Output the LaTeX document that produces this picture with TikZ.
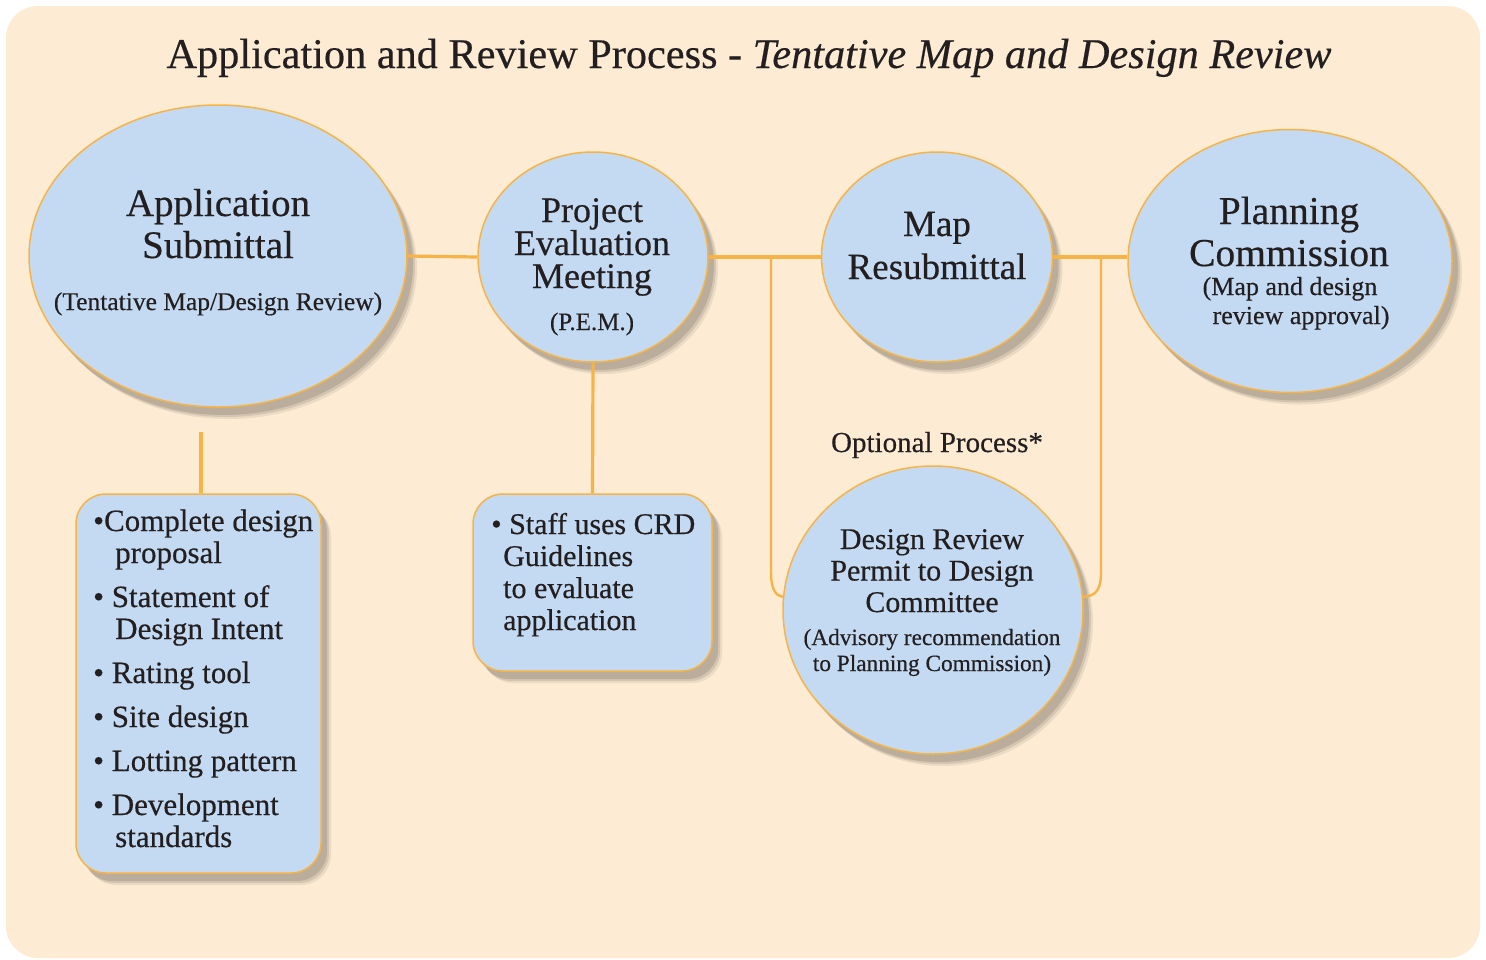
\documentclass[tikz,border=0pt]{standalone}
\usepackage{fontspec}
\setmainfont{Liberation Serif}[FakeBold=0.4]
\usetikzlibrary{shadows,shapes.geometric}
\definecolor{bgc}{HTML}{FDEBD3}
\definecolor{blu}{HTML}{C3DAF2}
\definecolor{org}{HTML}{F7B446}
\definecolor{txt}{HTML}{231F20}
\definecolor{shd}{HTML}{6E675E}
\newcommand\fsz[2]{\fontsize{#1}{#2}\selectfont}
\begin{document}
\begin{tikzpicture}[x=1pt,y=-1pt,
  softshadow/.style={
    drop shadow={shadow xshift=10pt, shadow yshift=-12pt, fill=shd, opacity=0.12},
    drop shadow={shadow xshift=8pt, shadow yshift=-10pt, fill=shd, opacity=0.18},
    drop shadow={shadow xshift=6pt, shadow yshift=-8pt, fill=shd, opacity=0.25}},
  bubble/.style={ellipse, draw=org, line width=1.5pt, fill=blu, inner sep=0pt, softshadow},
  card/.style={rectangle, rounded corners=30pt, draw=org, line width=1.5pt, fill=blu, inner sep=0pt, softshadow},
  conn/.style={draw=org, line width=3.2pt},
  optline/.style={draw=org, line width=2.4pt},
  txtn/.style={text=txt, inner sep=0pt, anchor=base, align=center}]
\useasboundingbox (0,0) rectangle (1486,959);
\fill[white] (0,0) rectangle (1486,959);
\fill[bgc, rounded corners=32pt] (6,6) rectangle (1480,958);

% bubbles
\node[bubble, minimum width=378pt, minimum height=302pt] (app) at (218,256) {};
\node[bubble, minimum width=230pt, minimum height=210pt] (pem) at (593,257) {};
\node[bubble, minimum width=231pt, minimum height=210pt] (map) at (937,257) {};
\node[bubble, minimum width=324pt, minimum height=263pt] (pc) at (1290,261) {};
\node[bubble, minimum width=300pt, minimum height=288pt] (dr) at (933,610) {};
% boxes
\node[card, minimum width=245pt, minimum height=379pt] (box1) at (198.5,683.5) {};
\node[card, minimum width=239pt, minimum height=177pt] (box2) at (592.5,582.5) {};

% connectors
\draw[conn] (app.east) -- (pem.west);
\draw[conn] (pem.east) -- (map.west);
\draw[conn] (map.east) -- (map.east -| pc.west);
\coordinate (a1) at (201,432);
\draw[conn] (a1) -- (a1 |- box1.north);
\draw[conn] (pem.south) -- (box2.north);
\coordinate (j1) at (771,257);
\coordinate (j2) at (1101,257);
\draw[optline] (j1) -- (771,572) .. controls (771,590) and (776,596) .. (dr.175);
\draw[optline] (j2) -- (1101,572) .. controls (1101,590) and (1096,596) .. (dr.5);

% texts (multi-line nodes: base = baseline of last line)
\node[txtn, font=\fsz{42.3}{44}] (title) at (749,68) {Application and Review Process - \textit{Tentative Map and Design Review}};
\node[txtn, font=\fsz{39}{42}] (appt) at (218,258) {Application\\Submittal};
\node[txtn, font=\fsz{25.5}{30}] (apps) at (218,310) {(Tentative Map/Design Review)};
\node[txtn, font=\fsz{36}{33}] (pemt) at (592,288) {Project\\Evaluation\\Meeting};
\node[txtn, font=\fsz{25}{30}] (pems) at (592,330) {(P.E.M.)};
\node[txtn, font=\fsz{37}{43}] (mapt) at (937,279) {Map\\Resubmittal};
\node[txtn, font=\fsz{39.5}{42}] (pct) at (1289,266) {Planning\\Commission};
\node[txtn, font=\fsz{26}{29}] (pcs1) at (1290,295) {(Map and design};
\node[txtn, font=\fsz{26}{29}] (pcs2) at (1301,324) {review approval)};
\node[txtn, font=\fsz{29}{32}] (opt) at (937,452) {Optional Process*};
\node[txtn, font=\fsz{30}{31.5}] (drt) at (932,612) {Design Review\\Permit to Design\\Committee};
\node[txtn, font=\fsz{23.3}{26}] (drs) at (932,671) {(Advisory recommendation\\to Planning Commission)};
\node[txtn, align=left, anchor=base west, font=\fsz{31}{32}] (b1t) at (93,847)
  {•Complete design\\\hspace*{22pt}proposal\\[12pt]• Statement of\\\hspace*{22pt}Design Intent\\[12pt]• Rating tool\\[12pt]• Site design\\[12pt]• Lotting pattern\\[12pt]• Development\\\hspace*{22pt}standards};
\node[txtn, align=left, anchor=base west, font=\fsz{30}{32}] (b2t) at (491,630)
  {• Staff uses CRD\\\hspace*{12pt}Guidelines\\\hspace*{12pt}to evaluate\\\hspace*{12pt}application};
\end{tikzpicture}
\end{document}
